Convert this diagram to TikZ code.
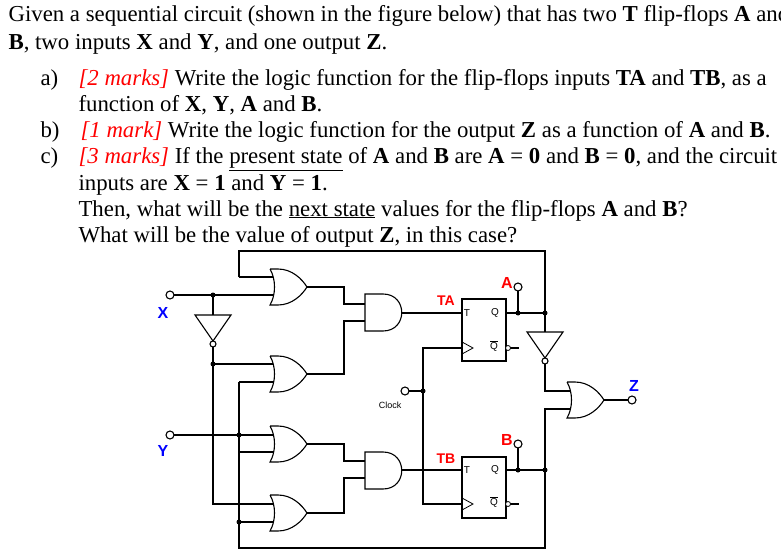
\documentclass[tikz,border=0pt]{standalone}
\usepackage{fontspec}
\setmainfont{Liberation Serif}
\newfontfamily\lsans{Liberation Sans}
\begin{document}
\begin{tikzpicture}[x=1pt,y=-1pt,line width=1.1pt,
  txt/.style={anchor=base west,inner sep=0pt,font=\fontsize{22.8}{22.8}\selectfont},
  lab/.style={font=\lsans\bfseries\fontsize{16}{16}\selectfont,inner sep=0pt},
  ff/.style={font=\lsans\fontsize{10}{10}\selectfont,inner sep=0pt},
  dot/.style={circle,fill,inner sep=0pt,minimum size=5pt},
  term/.style={circle,draw,fill=white,inner sep=0pt,minimum size=8pt,line width=1.1pt},
  orgate/.pic={\draw[fill=white] (0,0) -- (8,0) .. controls (22,0) and (32,10) .. (37,18) .. controls (32,26) and (22,36) .. (8,36) -- (0,36) .. controls (6,26) and (6,10) .. (0,0);},
  andgate/.pic={\draw[fill=white] (0,0) -- (18,0) .. controls (43,0) and (43,37) .. (18,37) -- (0,37) -- cycle;},
  notgate/.pic={\draw[fill=white] (-18,0) -- (18,0) -- (0,26) -- cycle; \draw[fill=white] (0,29) circle[radius=3];}
]
\useasboundingbox (0,0) rectangle (781,556);
\clip (0,0) rectangle (781,556);
% text
\node[txt] (t1) at (8,22) {Given a sequential circuit (shown in the figure below) that has two \textbf{T} flip-flops \textbf{A} and};
\node[txt] (t2) at (8,50) {\textbf{B}, two inputs \textbf{X} and \textbf{Y}, and one output \textbf{Z}.};
\node[txt] (ta) at (40,86) {a)};
\node[txt] (ta1) at (78,86) {{\color{red}\itshape [2 marks]} Write the logic function for the flip-flops inputs \textbf{TA} and \textbf{TB}, as a};
\node[txt] (ta2) at (78,112) {function of \textbf{X}, \textbf{Y}, \textbf{A} and \textbf{B}.};
\node[txt] (tb) at (40,138) {b)};
\node[txt] (tb1) at (80,138) {{\color{red}\itshape [1 mark]} Write the logic function for the output \textbf{Z} as a function of \textbf{A} and \textbf{B}.};
\node[txt] (tc) at (40,164) {c)};
\node[txt] (tc1) at (78,164) {{\color{red}\itshape [3 marks]} If the \underline{present state} of \textbf{A} and \textbf{B} are \textbf{A} = \textbf{0} and \textbf{B} = \textbf{0}, and the circuit};
\node[txt] (tc2) at (78,190) {inputs are \textbf{X} = \textbf{1} and \textbf{Y} = \textbf{1}.};
\node[txt] (tc3) at (78,216) {Then, what will be the \underline{next state} values for the flip-flops \textbf{A} and \textbf{B}?};
\node[txt] (tc4) at (78,242) {What will be the value of output \textbf{Z}, in this case?};
% gates
\pic at (270,269) {orgate};
\pic at (270,356) {orgate};
\pic at (270,426) {orgate};
\pic at (270,495) {orgate};
\pic at (365,294) {andgate};
\pic at (365,452) {andgate};
\pic at (213,315) {notgate};
\pic at (545,332) {notgate};
\pic at (567,382) {orgate};
% flip-flops
\draw (462,299) rectangle (506,361);
\draw (462,457) rectangle (506,518);
\draw[line width=0.8pt] (462,342) -- (473,348) -- (462,354);
\draw[line width=0.8pt] (462,498) -- (473,504) -- (462,510);
\node[ff] (fa1) at (467,313) {T}; \node[ff] (fa2) at (495,313) {Q}; \node[ff] (fa3) at (494,346) {$\overline{\mbox{Q}}$};
\node[ff] (fb1) at (467,470) {T}; \node[ff] (fb2) at (495,470) {Q}; \node[ff] (fb3) at (494,502) {$\overline{\mbox{Q}}$};
\draw (510,348) -- (519,348); \draw[fill=white,line width=0.8pt] (508,348) circle[radius=2.5];
\draw (510,504) -- (519,504); \draw[fill=white,line width=0.8pt] (508,504) circle[radius=2.5];
% wires
\draw (239,277) -- (239,251) -- (545,251) -- (545,332);
\draw (239,277) -- (273,277);
\draw (174,295) -- (273,295);
\draw (213,295) -- (213,315);
\draw (213,347) -- (213,504) -- (273,504);
\draw (213,364) -- (273,364);
\draw (239,382) -- (273,382);
\draw (239,382) -- (239,548) -- (545,548) -- (545,409) -- (570,409);
\draw (174,435) -- (273,435);
\draw (239,452) -- (273,452);
\draw (239,522) -- (273,522);
\draw (307,287) -- (344,287) -- (344,304) -- (365,304);
\draw (307,374) -- (344,374) -- (344,321) -- (365,321);
\draw (307,444) -- (344,444) -- (344,461) -- (365,461);
\draw (307,513) -- (344,513) -- (344,478) -- (365,478);
\draw (402,313) -- (462,313);
\draw (402,470) -- (462,470);
\draw (506,313) -- (545,313);
\draw (506,470) -- (545,470);
\draw (518,313) -- (518,291);
\draw (518,470) -- (518,448);
\draw (545,364) -- (545,391) -- (570,391);
\draw (409,391) -- (423,391);
\draw (462,348) -- (423,348) -- (423,504) -- (462,504);
\draw (604,400) -- (628,400);
% dots
\foreach \p in {(213,295),(213,364),(239,435),(239,522),(518,313),(545,313),(518,470),(545,470),(423,391)} \node[dot] at \p {};
% terminals
\node[term] (tx) at (170,295) {};
\node[term] (ty) at (170,435) {};
\node[term] (tclk) at (405,391) {};
\node[term] (tA) at (518,287) {};
\node[term] (tB) at (518,444) {};
\node[term] (tZ) at (632,400) {};
% labels
\node[lab,text=blue] (lx) at (163,313) {X};
\node[lab,text=blue] (ly) at (163,451) {Y};
\node[lab,text=blue] (lz) at (634,386) {Z};
\node[lab,text=red] (la) at (507,283) {A};
\node[lab,text=red] (lb) at (507,440) {B};
\node[lab,text=red,font=\lsans\bfseries\fontsize{14}{14}\selectfont] (lta) at (446,301) {TA};
\node[lab,text=red,font=\lsans\bfseries\fontsize{14}{14}\selectfont] (ltb) at (446,459) {TB};
\node[ff,font=\lsans\fontsize{9}{9}\selectfont] (lclk) at (390,405) {Clock};
\end{tikzpicture}
\end{document}
